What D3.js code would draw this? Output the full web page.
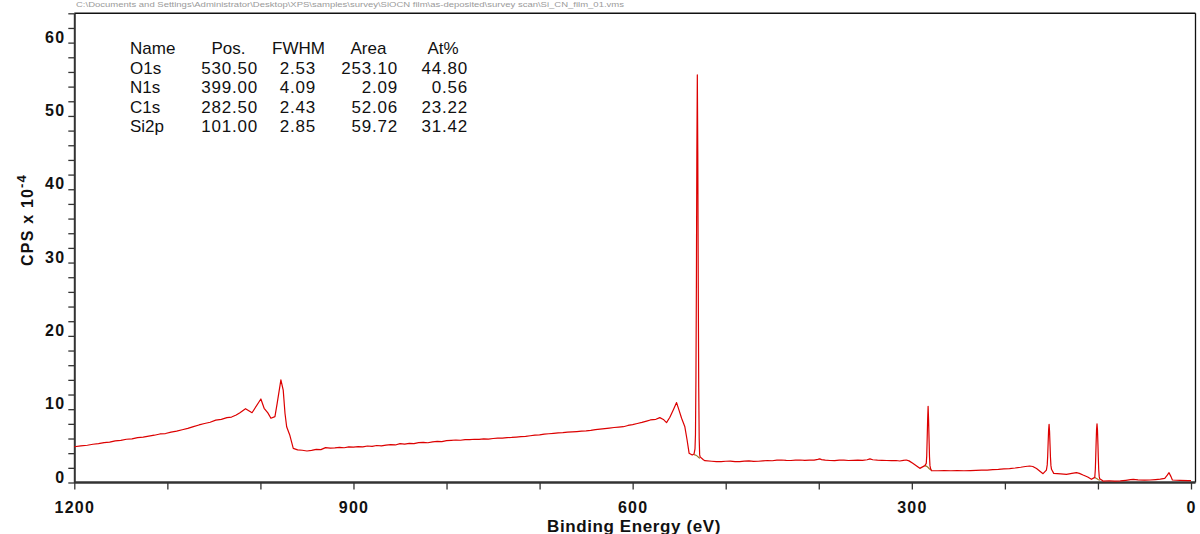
<!DOCTYPE html>
<html>
<head>
<meta charset="utf-8">
<script src="https://cdn.jsdelivr.net/npm/d3@7"></script>
<style>
  html, body { margin: 0; padding: 0; background: #fff; }
  svg { display: block; }
  text { font-family: Arial, "Liberation Sans", sans-serif; }
</style>
</head>
<body>
<svg id="chart" width="1200" height="534"></svg>
<script>
// ---- data (binding energy in eV, intensity in CPS x 10^-4) ----
const energy = [
  1200,1193,1186,1180,1174,1168,1162,1156,1150,1144,1138,1132,1126,1120,1114,1108,1102,1096,1090,1084,
  1078,1072,1066,1060,1054,1048,1042,1036,1031,1026,1022,1016,1009,999.5,996,992,988.7,984.4,982,978,
  975.5,973.6,971.8,968.3,964.7,960,955,950,945,940,935,930,925,920,915,910,905,900,895,890,
  885,880,875,870,865,860,855,850,845,840,835,830,825,820,815,810,805,800,795,790,
  785,780,775,770,765,760,755,750,745,740,735,730,725,720,715,710,705,700,695,690,
  685,680,675,670,665,660,655,650,645,640,635,630,625,620,615,610,605,600,595,590,
  585,581,575,570.8,567,563.6,560,556,552.8,550,547.4,543.9,541.5,539.3,536,534,533,532.5,532,531.5,
  531,530.5,530,529.5,529,528.5,528,527.5,524,522.4,515,510,505,500,495,490,485,480,475,470,
  465,460,455,450,445,440,435,430,425,420,415,410,405,401,399,397,393,388,383,378,
  373,368,363,358,353,348,345,342,337,332,327,322,317,313,309,306,303,299,291.4,286,
  284.5,284,283.5,283,282.5,282,281.5,281,280.5,279.9,278.9,272,265,258,251,244,237,231,225,219,
  213,207,201,195,189,183,178,173.3,170,166,162,159,155.4,154.5,154,153.5,153,152.5,152,151.5,
  151,150.5,149.9,147.5,140,133.8,128,123.1,120,116,111,107,103.4,102.8,102.4,102,101.5,101,100.5,100,
  99.6,99.2,98.6,98.1,96,94.6,88,82,76,70,65,62,57,50,44,38,33,28.2,25.5,23.6,
  21.5,20,12,3,0
];
const cps = [
  4.88,5.0,5.08,5.22,5.3,5.45,5.5,5.68,5.75,5.9,5.95,6.12,6.2,6.33,6.45,6.62,6.68,6.88,7.0,7.2,
  7.38,7.62,7.85,8.05,8.22,8.5,8.62,8.85,8.93,9.2,9.52,10.07,9.52,11.39,10.12,9.5,8.76,8.98,10.8,14.0,
  12.6,9.44,7.6,6.4,4.66,4.45,4.4,4.3,4.38,4.52,4.48,4.75,4.68,4.72,4.8,4.74,4.86,4.82,4.9,4.85,
  4.98,4.94,5.05,5.0,5.1,5.16,5.12,5.3,5.24,5.34,5.3,5.44,5.48,5.42,5.55,5.6,5.58,5.7,5.75,5.8,
  5.76,5.86,5.84,5.9,5.88,5.94,5.92,6.0,6.04,6.06,6.12,6.15,6.2,6.25,6.3,6.38,6.46,6.5,6.6,6.65,
  6.7,6.76,6.8,6.86,6.9,6.95,7.0,7.04,7.1,7.2,7.28,7.35,7.42,7.5,7.55,7.61,7.78,7.9,8.05,8.2,
  8.38,8.53,8.62,8.85,8.6,8.16,8.9,10.0,10.9,9.8,8.76,7.6,5.8,3.98,3.75,3.9,4.6,6.5,14,27,
  45,55.6,45,27,13,6,3.8,3.5,3.1,2.98,2.9,2.86,2.84,2.9,2.92,2.86,2.85,2.92,2.95,2.88,
  2.9,2.96,3.0,2.97,3.04,3.07,3.02,3.0,3.05,3.07,3.02,3.04,3.06,3.15,3.22,3.12,3.05,3.0,2.98,3.04,
  3.06,3.0,3.02,3.05,3.02,3.1,3.22,3.1,3.04,3.02,3.0,2.98,3.0,2.93,3.02,3.07,2.95,2.62,1.93,2.3,
  2.6,3.6,6.0,8.6,10.4,8.6,6.0,3.5,2.3,1.93,1.61,1.6,1.62,1.6,1.62,1.6,1.63,1.66,1.68,1.7,
  1.76,1.8,1.86,1.9,1.98,2.08,2.18,2.25,2.18,1.9,1.5,1.2,1.7,2.4,3.6,5.5,7.2,7.94,7.0,5.2,
  3.4,2.3,1.8,1.25,1.18,1.12,1.25,1.34,1.25,1.02,0.75,0.44,0.7,1.8,3.4,5.2,7.2,8.0,7.2,5.2,
  3.4,1.8,0.8,0.5,0.34,0.2,0.24,0.2,0.22,0.3,0.38,0.43,0.36,0.32,0.34,0.4,0.45,0.57,1.0,1.34,
  0.8,0.34,0.3,0.25,0.25
];
// fitted background segments under the quantified peaks
const bgO1sE = [534, 532, 530.5, 529, 527.5];
const bgO1sV = [3.8, 3.72, 3.6, 3.42, 3.3];
const bgC1sE = [286, 284, 282.5, 281, 279];
const bgC1sV = [2.3, 2.2, 2.05, 1.85, 1.7];
const bgSi2pE = [104, 102.5, 101, 99.5, 97.5];
const bgSi2pV = [0.7, 0.62, 0.5, 0.38, 0.3];

// quantification table
const tableHeader = ["Name", "Pos.", "FWHM", "Area", "At%"];
const peakNames = ["O1s", "N1s", "C1s", "Si2p"];
const peakPos = ["530.50", "399.00", "282.50", "101.00"];
const peakFwhm = ["2.53", "4.09", "2.43", "2.85"];
const peakArea = ["253.10", "2.09", "52.06", "59.72"];
const peakAt = ["44.80", "0.56", "23.22", "31.42"];

const xTicks = [1200,1100,1000,900,800,700,600,500,400,300,200,100,0];
const xTickLabels = ["1200","","","900","","","600","","","300","","","0"];
const yTicks = [0,2,4,6,8,10,12,14,16,18,20,22,24,26,28,30,32,34,36,38,40,42,44,46,48,50,52,54,56,58,60,62,64];
const yTickLabels = yTicks.map(v => v % 10 === 0 ? String(v) : "");
const headerText = "C:\\Documents and Settings\\Administrator\\Desktop\\XPS\\samples\\survey\\SiOCN film\\as-deposited\\survey scan\\Si_CN_film_01.vms";

// ---- drawing ----
const svg = d3.select("#chart");
const pL = 74.3, pR = 1191, pT = 13.3, pB = 482.5, frameR = 1195.5;
const x = d3.scaleLinear().domain([1200, 0]).range([pL, pR]);
const y = d3.scaleLinear().domain([0, 64]).range([pB, pT]);

// header text (file path)
svg.append("text")
  .attr("x", 76).attr("y", 7)
  .attr("font-size", 7).attr("fill", "#9a9a9a")
  .attr("textLength", 548).attr("lengthAdjust", "spacingAndGlyphs")
  .text(headerText);

// frame top and right
svg.append("line").attr("x1", pL).attr("x2", frameR).attr("y1", pT).attr("y2", pT)
  .attr("stroke", "#111").attr("stroke-width", 1.6);
svg.append("line").attr("x1", frameR).attr("x2", frameR).attr("y1", pT).attr("y2", pB)
  .attr("stroke", "#111").attr("stroke-width", 1.3);

// axes
const yAxis = d3.axisLeft(y).tickValues(yTicks).tickSize(6).tickSizeOuter(0)
  .tickFormat((d, i) => yTickLabels[i]);
const gy = svg.append("g").attr("transform", `translate(${pL},0)`).call(yAxis);
gy.select(".domain").attr("stroke", "#333").attr("stroke-width", 2);
gy.selectAll(".tick line").attr("stroke", "#333").attr("stroke-width", 1.3);
gy.selectAll(".tick text")
  .attr("x", -9).attr("dy", "-0.5")
  .attr("font-size", 16).attr("font-weight", "bold").attr("fill", "#111")
  .attr("letter-spacing", 1.2)
  .attr("font-family", "Arial, 'Liberation Sans', sans-serif");

const xAxis = d3.axisBottom(x).tickValues(xTicks).tickSize(7).tickSizeOuter(0)
  .tickFormat((d, i) => xTickLabels[i]);
const gx = svg.append("g").attr("transform", `translate(0,${pB})`).call(xAxis);
gx.select(".domain").attr("stroke", "#333").attr("stroke-width", 2.4)
  .attr("d", `M${pL},0H${frameR}`);
gx.selectAll(".tick line").attr("stroke", "#333").attr("stroke-width", 1.3);
gx.selectAll(".tick text")
  .attr("y", 30.5).attr("dy", 0)
  .attr("font-size", 16).attr("font-weight", "bold").attr("fill", "#111")
  .attr("letter-spacing", 1.2)
  .attr("font-family", "Arial, 'Liberation Sans', sans-serif");

// axis titles
svg.append("text")
  .attr("x", 634).attr("y", 531.5).attr("text-anchor", "middle")
  .attr("font-size", 17).attr("font-weight", "bold").attr("fill", "#111")
  .attr("letter-spacing", 0.6)
  .text("Binding Energy (eV)");

const yt = svg.append("text")
  .attr("transform", "translate(33,266) rotate(-90)")
  .attr("font-size", 16).attr("font-weight", "bold").attr("fill", "#111")
  .attr("letter-spacing", 1.2);
yt.append("tspan").text("CPS x 10");
yt.append("tspan").attr("dy", -7).attr("font-size", 13).text("-4");

// spectrum
const pts = energy.map((e, i) => [e, cps[i]]);
const line = d3.line().x(d => x(d[0])).y(d => y(d[1]));

const bgs = [[bgO1sE, bgO1sV], [bgC1sE, bgC1sV], [bgSi2pE, bgSi2pV]];
bgs.forEach(([es, vs]) => {
  svg.append("path").datum(es.map((e, i) => [e, vs[i]]))
    .attr("d", line).attr("fill", "none")
    .attr("stroke", "#9a7a2a").attr("stroke-width", 1.2);
});

svg.append("path").datum(pts)
  .attr("d", line)
  .attr("fill", "none")
  .attr("stroke", "#dc0000")
  .attr("stroke-width", 1.2)
  .attr("stroke-linejoin", "round");

// quantification table
const tbl = svg.append("g").attr("font-size", 17).attr("fill", "#111");
const rowY = [54, 73.5, 93, 112.5, 132];
const headerX = [130, 228.5, 298.5, 368.5, 443];
tableHeader.forEach((h, i) => {
  tbl.append("text")
    .attr("x", headerX[i]).attr("y", rowY[0])
    .attr("text-anchor", i === 0 ? "start" : "middle")
    .text(h);
});
const colRight = [258, 316, 398, 468];
const cols = [peakPos, peakFwhm, peakArea, peakAt];
peakNames.forEach((n, r) => {
  tbl.append("text").attr("x", 130).attr("y", rowY[r + 1]).text(n);
  cols.forEach((col, c) => {
    tbl.append("text")
      .attr("x", colRight[c]).attr("y", rowY[r + 1])
      .attr("text-anchor", "end")
      .attr("letter-spacing", 0.8)
      .text(col[r]);
  });
});
</script>
</body>
</html>
